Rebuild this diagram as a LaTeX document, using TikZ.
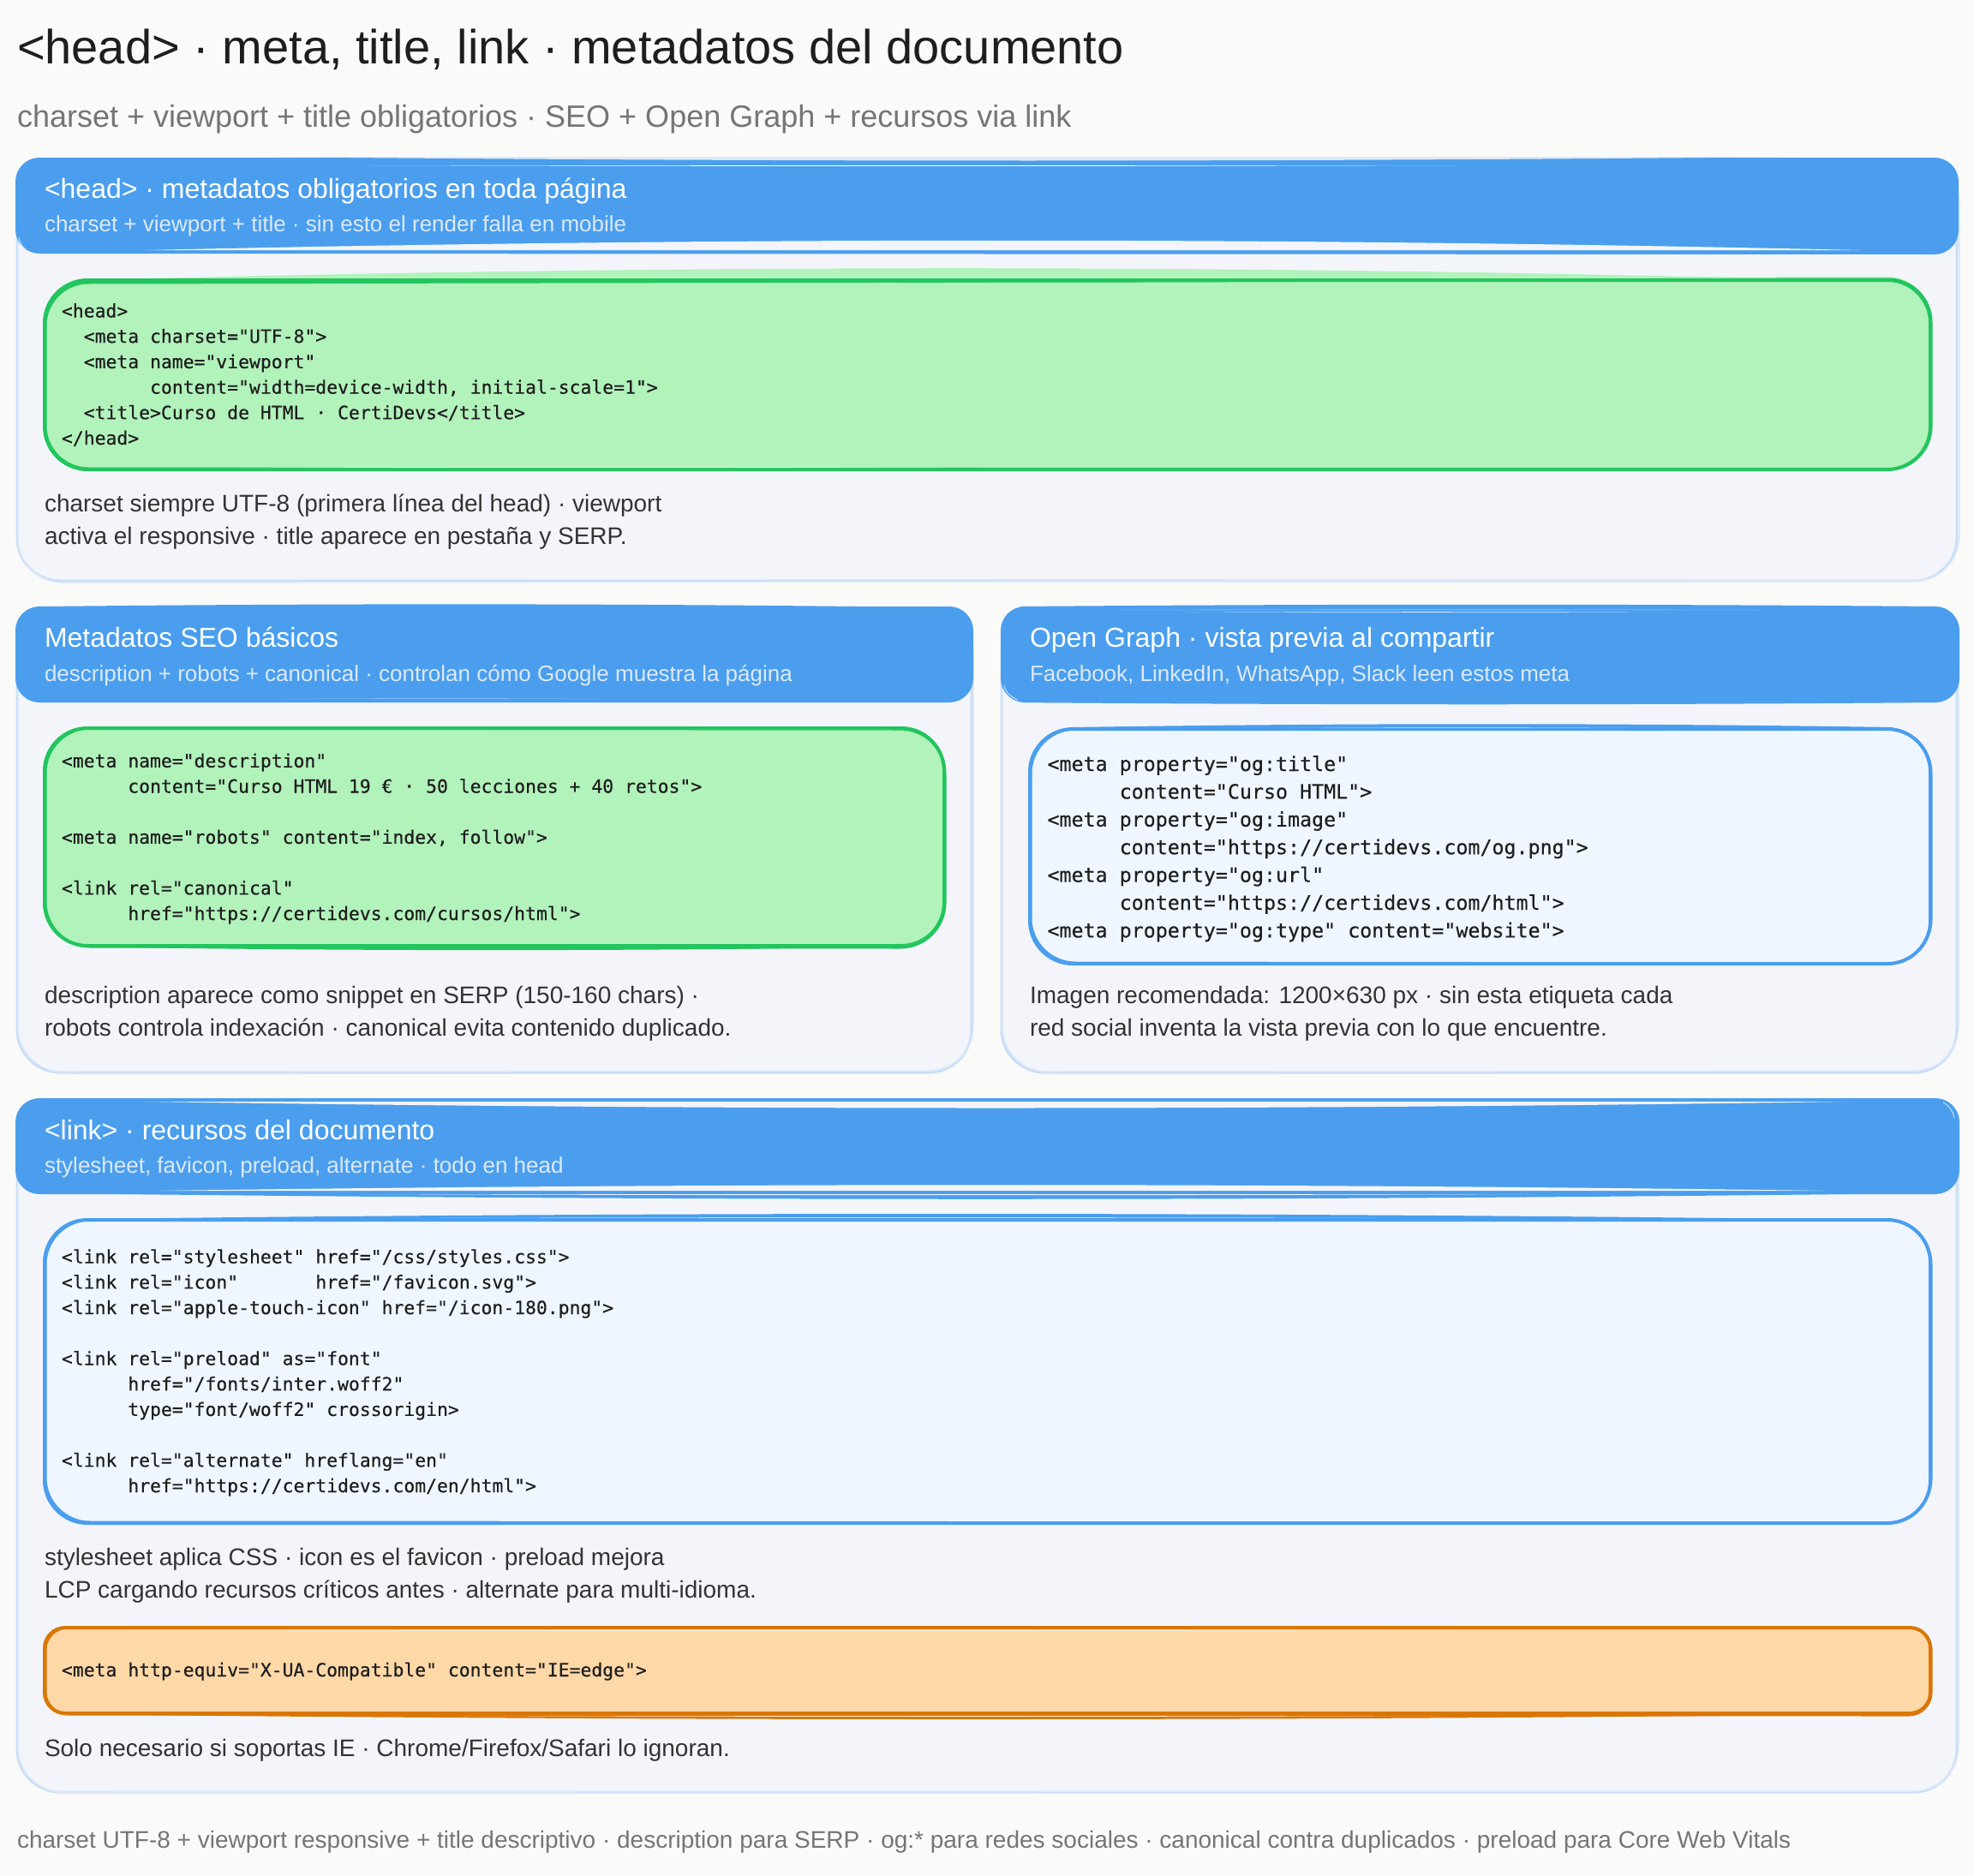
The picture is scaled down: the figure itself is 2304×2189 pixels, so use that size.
\documentclass[tikz,border=0pt]{standalone}
\usepackage{fontspec}
\setmainfont{Liberation Sans}
\newfontfamily\codefont{DejaVu Sans Mono}[FakeBold=0.35]
\definecolor{pagebg}{HTML}{FAFAF9}
\definecolor{panelbg}{HTML}{F3F5FB}
\definecolor{panelline}{HTML}{C9DEF7}
\definecolor{panelpale}{HTML}{DDE9F9}
\definecolor{headblue}{HTML}{4A9EED}
\definecolor{greenfill}{HTML}{B2F2BB}
\definecolor{greenline}{HTML}{22C55E}
\definecolor{bluefill}{HTML}{EFF6FF}
\definecolor{orangefill}{HTML}{FFD8A8}
\definecolor{orangeline}{HTML}{D97706}
\definecolor{inktitle}{HTML}{1E1E1E}
\definecolor{inkmuted}{HTML}{757575}
\definecolor{inkbody}{HTML}{333333}
\definecolor{headsub}{HTML}{DCE9F8}
% x1 y1 x2 y2 r topleft topright bottomleft bottomright (edge end offsets)
\newcommand{\rrpath}[9]{%
  ({#1+#5},{#2+#6}) -- ({#3-#5},{#2+#7})
  .. controls ({#3-0.45*#5},{#2+#7}) and ({#3},{#2+#7+0.45*#5}) .. ({#3},{#2+#7+#5})
  -- ({#3},{#4+#9-#5})
  .. controls ({#3},{#4+#9-0.45*#5}) and ({#3-0.45*#5},{#4+#9}) .. ({#3-#5},{#4+#9})
  -- ({#1+#5},{#4+#8})
  .. controls ({#1+0.45*#5},{#4+#8}) and ({#1},{#4+#8-0.45*#5}) .. ({#1},{#4+#8-#5})
  -- ({#1},{#2+#6+#5})
  .. controls ({#1},{#2+#6+0.45*#5}) and ({#1+0.45*#5},{#2+#6}) .. cycle}
% colour x1 y1 x2 y2 bow : a tapered sliver, as left by a hand-drawn fill
\newcommand{\lens}[6]{\fill[#1] (#2,#3) .. controls ({#2+(#4-#2)/3},{#3+(#5-#3)/3+#6}) and ({#2+2*(#4-#2)/3},{#3+2*(#5-#3)/3+#6}) .. (#4,#5) -- cycle;}
\tikzset{
  x=1pt,y=-1pt,
  txt/.style={inner sep=0pt,outer sep=0pt,anchor=base west},
  pagetitle/.style={txt,text=inktitle,font=\fontsize{56}{60}\selectfont},
  pagesub/.style={txt,text=inkmuted,font=\fontsize{36}{40}\selectfont},
  headtitle/.style={txt,text=white,font=\fontsize{32}{36}\selectfont},
  headnote/.style={txt,text=headsub,font=\fontsize{26}{28}\selectfont},
  bodytext/.style={txt,text=inkbody,align=left,font=\fontsize{28}{38}\selectfont},
  footnote/.style={txt,text=inkmuted,font=\fontsize{28}{32}\selectfont},
  codetext/.style={txt,text=inktitle,align=left,font=\codefont\fontsize{21.4}{29.7}\selectfont},
  codebig/.style={txt,text=inktitle,align=left,font=\codefont\fontsize{23.3}{32.4}\selectfont},
  panelfill/.style={fill=panelbg},
  panelstroke/.style={draw=panelline,line width=3pt},
  panelstrokeb/.style={draw=panelpale,line width=1.5pt},
  headshape/.style={fill=headblue},
  hairline/.style={draw=panelline,line width=1pt},
  greenbox/.style={fill=greenfill},
  greenstroke/.style={draw=greenline,line width=4pt},
  bluebox/.style={fill=bluefill},
  bluestroke/.style={draw=headblue,line width=4pt},
  orangebox/.style={fill=orangefill},
  orangestroke/.style={draw=orangeline,line width=4pt},
}
\begin{document}
\begin{tikzpicture}
\fill[pagebg] (0,0) rectangle (2304,2189);
\useasboundingbox (0,0) rectangle (2304,2189);
\node[pagetitle] (title) at (20,74.5) {<head> · meta, title, link · metadatos del documento};
\node[pagesub] (subtitle) at (20,148) {charset + viewport + title obligatorios · SEO + Open Graph + recursos via link};

% ---------- panel A
\path[panelfill] \rrpath{20}{186}{2284}{678}{50}{0}{0}{0}{0};
\path[panelstroke] \rrpath{20}{186}{2284}{678}{50}{0}{0}{0}{0};
\path[panelstrokeb] \rrpath{21}{185}{2287}{679}{52}{0}{0}{1}{-1};
\path[headshape] \rrpath{18}{184}{2286}{296}{28}{0}{0}{0}{1};
\lens{panelpale}{300}{183}{2100}{183}{6}
\lens{white}{430}{193}{1700}{193}{1.2}
\lens{panelbg}{170}{292}{2170}{292}{-15}
\draw[hairline] (22,277) .. controls (23,284) and (26,288) .. (31,292);
\path[greenbox] \rrpath{52}{327}{2253}{548}{50}{0}{-4}{0}{0};
\lens{greenfill}{100}{327}{2060}{325}{-17}
\path[greenstroke] \rrpath{52}{327}{2253}{548}{50}{0}{0}{0}{0};
\path[greenstroke,line width=3pt] \rrpath{53}{329}{2254}{547}{50}{1}{-3}{0}{1};
\lens{greenline}{100}{326}{2050}{326}{5}
\lens{panelbg!40!greenfill}{280}{546}{1100}{546}{-2}
\node[headtitle] (ahead) at (52,231.5) {<head> · metadatos obligatorios en toda página};
\node[headnote] (asub) at (52,270) {charset + viewport + title · sin esto el render falla en mobile};
\node[codetext] (acode) at (72,519) {<head>\\
~~<meta charset="UTF-8">\\
~~<meta name="viewport"\\
~~~~~~~~content="width=device-width, initial-scale=1">\\
~~<title>Curso de HTML · CertiDevs</title>\\
</head>};
\node[bodytext] (abody) at (52,635) {charset siempre UTF-8 (primera línea del head) · viewport\\
activa el responsive · title aparece en pestaña y SERP.};

% ---------- panel B
\path[panelfill] \rrpath{20}{710}{1134}{1252}{50}{0}{0}{0}{0};
\path[panelstroke] \rrpath{20}{710}{1134}{1252}{50}{0}{0}{0}{0};
\path[panelstrokeb] \rrpath{21}{710}{1136}{1250}{52}{0}{0}{1}{0};
\lens{headblue}{50}{708}{1000}{708}{-3.5}
\path[headshape] \rrpath{18}{708}{1136}{820}{28}{0}{0}{0}{0};
\lens{white!45!headblue}{330}{815}{700}{815}{0.8}
\lens{greenline}{80}{1105}{1070}{1105}{5.5}
\path[greenbox] \rrpath{52}{850}{1102}{1104}{50}{0}{0}{0}{0};
\path[greenstroke] \rrpath{52}{850}{1102}{1104}{50}{0}{0}{0}{0};
\path[greenstroke,line width=3pt] \rrpath{53}{850}{1103}{1105}{52}{0}{1}{0}{1};
\node[headtitle] (bhead) at (52,755) {Metadatos SEO básicos};
\node[headnote] (bsub) at (52,795) {description + robots + canonical · controlan cómo Google muestra la página};
\node[codetext] (bcode) at (72,1074) {<meta name="description"\\
~~~~~~content="Curso HTML 19 € · 50 lecciones + 40 retos">\\
~\\
<meta name="robots" content="index, follow">\\
~\\
<link rel="canonical"\\
~~~~~~href="https://certidevs.com/cursos/html">};
\node[bodytext] (bbody) at (52,1209.5) {description aparece como snippet en SERP (150-160 chars) ·\\
robots controla indexación · canonical evita contenido duplicado.};

% ---------- panel C
\path[panelfill] \rrpath{1169}{710}{2284}{1252}{50}{0}{0}{0}{0};
\path[panelstroke] \rrpath{1169}{710}{2284}{1252}{50}{0}{0}{0}{0};
\path[panelstrokeb] \rrpath{1170}{710}{2286}{1250}{52}{0}{0}{1}{0};
\lens{headblue}{1190}{708}{2260}{708}{-3}
\lens{headblue}{1190}{820}{2260}{820}{3}
\path[headshape] \rrpath{1168}{708}{2287}{820}{28}{0}{0}{0}{0};
\lens{white!45!headblue}{1305}{712}{2055}{712}{-0.8}
\lens{white!80!headblue}{1380}{714}{1950}{714}{1}
\draw[hairline] (1172,800) .. controls (1173,807) and (1177,812) .. (1188,817);
\path[bluebox] \rrpath{1202}{850}{2253}{1125}{50}{0}{0}{0}{0};
\lens{headblue}{1250}{849}{2210}{849}{-5}
\path[bluestroke] \rrpath{1202}{851}{2253}{1125}{50}{0}{0}{0}{0};
\path[bluestroke,line width=3pt] \rrpath{1203}{851}{2254}{1124}{52}{0}{0}{0}{1};
\lens{white!70!headblue}{1500}{849}{1900}{849}{0.8}
\node[headtitle] (chead) at (1202,755) {Open Graph · vista previa al compartir};
\node[headnote] (csub) at (1202,795) {Facebook, LinkedIn, WhatsApp, Slack leen estos meta};
\node[codebig] (ccode) at (1222.5,1094.4) {<meta property="og:title"\\
~~~~~~content="Curso HTML">\\
<meta property="og:image"\\
~~~~~~content="https://certidevs.com/og.png">\\
<meta property="og:url"\\
~~~~~~content="https://certidevs.com/html">\\
<meta property="og:type" content="website">};
\node[bodytext] (cbody) at (1202,1209.5) {Imagen recomendada: 1200×630 px · sin esta etiqueta cada\\
red social inventa la vista previa con lo que encuentre.};

% ---------- panel D
\path[panelfill] \rrpath{20}{1285}{2284}{2092}{50}{0}{0}{0}{-1};
\path[panelstroke] \rrpath{20}{1285}{2284}{2092}{50}{0}{0}{0}{0};
\path[panelstrokeb] \rrpath{21}{1285}{2286}{2091}{52}{0}{0}{1}{0};
\lens{headblue}{60}{1393}{2240}{1393}{9}
\path[headshape] \rrpath{18}{1282}{2287}{1394}{28}{0}{0}{0}{0};
\lens{panelbg}{170}{1286}{2154}{1286}{10}
\lens{panelbg}{185}{1390}{2130}{1390}{-9}
\lens{panelbg}{420}{1394}{1790}{1394}{1.6}
\draw[hairline] (2268,1287) .. controls (2274,1290) and (2279,1296) .. (2281,1305);
\path[bluebox] \rrpath{52}{1424}{2253}{1778}{50}{0}{0}{0}{0};
\lens{headblue}{100}{1423}{2100}{1423}{-8}
\path[bluestroke] \rrpath{52}{1424}{2253}{1778}{50}{0}{0}{0}{0};
\path[bluestroke,line width=3pt] \rrpath{53}{1424}{2254}{1777}{52}{0}{0}{0}{1};
\lens{white}{510}{1421}{1606}{1421}{0.8}
\node[headtitle] (dhead) at (52,1330) {<link> · recursos del documento};
\node[headnote] (dsub) at (52,1369) {stylesheet, favicon, preload, alternate · todo en head};
\node[codetext] (dcode) at (72,1742) {<link rel="stylesheet" href="/css/styles.css">\\
<link rel="icon"~~~~~~~href="/favicon.svg">\\
<link rel="apple-touch-icon" href="/icon-180.png">\\
~\\
<link rel="preload" as="font"\\
~~~~~~href="/fonts/inter.woff2"\\
~~~~~~type="font/woff2" crossorigin>\\
~\\
<link rel="alternate" hreflang="en"\\
~~~~~~href="https://certidevs.com/en/html">};
\node[bodytext] (dbody) at (52,1865) {stylesheet aplica CSS · icon es el favicon · preload mejora\\
LCP cargando recursos críticos antes · alternate para multi-idioma.};
\lens{orangeline}{60}{2001}{2200}{2001}{8}
\path[orangebox] \rrpath{52}{1900}{2253}{2000}{24}{0}{0}{0}{0};
\path[orangestroke] \rrpath{52}{1900}{2253}{2000}{24}{0}{0}{0}{0};
\path[orangestroke,line width=3pt] \rrpath{53}{1900}{2254}{2001}{26}{0}{0}{0}{1};
\lens{white!70!orangefill}{150}{1903}{1700}{1903}{1.5}
\lens{white!60!orangefill}{540}{2003}{1680}{2003}{1.2}
\node[codetext] (ecode) at (72,1957) {<meta http-equiv="X-UA-Compatible" content="IE=edge">};
\node[bodytext] (ebody) at (52,2050) {Solo necesario si soportas IE · Chrome/Firefox/Safari lo ignoran.};
\node[footnote] (foot) at (20,2157) {charset UTF-8 + viewport responsive + title descriptivo · description para SERP · og:* para redes sociales · canonical contra duplicados · preload para Core Web Vitals};
\end{tikzpicture}
\end{document}
